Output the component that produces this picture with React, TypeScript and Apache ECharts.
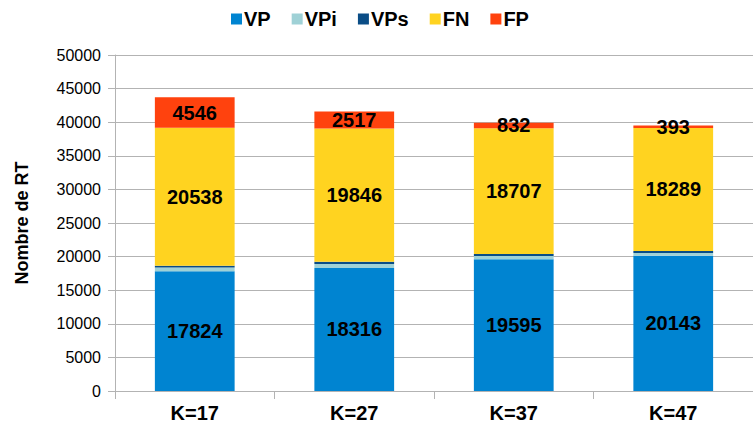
import React, { useEffect, useRef } from "react";
import * as echarts from "echarts";

const categories = ["K=17", "K=27", "K=37", "K=47"];
const vp = [17824, 18316, 19595, 20143];
const vpi = [550, 600, 500, 400];
const vps = [250, 300, 300, 300];
const fn = [20538, 19846, 18707, 18289];
const fp = [4546, 2517, 832, 393];
const yTicks = [0, 5000, 10000, 15000, 20000, 25000, 30000, 35000, 40000, 45000, 50000];

const FONT = "'Liberation Sans', Arial, sans-serif";

export default function App() {
  const ref = useRef<HTMLDivElement>(null);
  useEffect(() => {
    if (!ref.current) return;
    const chart = echarts.init(ref.current, undefined, { renderer: "svg" });
    const label = (show: boolean) => ({
      show,
      position: "inside",
      color: "#000",
      fontFamily: FONT,
      fontWeight: "bold",
      fontSize: 20,
    });
    const mk = (name: string, data: number[], color: string, showLabel: boolean) => ({
      name,
      type: "bar",
      stack: "all",
      data,
      barWidth: "50%",
      itemStyle: { color },
      label: label(showLabel),
    });
    chart.setOption({
      animation: false,
      textStyle: { fontFamily: FONT },
      legend: {
        top: 4,
        left: 226,
        itemWidth: 11,
        itemHeight: 11,
        itemGap: 21,
        icon: "rect",
        textStyle: { fontFamily: FONT, fontWeight: "bold", fontSize: 20, color: "#000", padding: [0, 0, 0, -3] },
        data: ["VP", "VPi", "VPs", "FN", "FP"],
      },
      grid: { left: 115, top: 55, width: 644, bottom: 41, containLabel: false },
      xAxis: {
        type: "category",
        data: categories,
        axisLine: { lineStyle: { color: "#b3b3b3" } },
        axisTick: { show: true, length: 8, lineStyle: { color: "#b3b3b3" } },
        axisLabel: { color: "#000", fontFamily: FONT, fontWeight: "bold", fontSize: 20, margin: 12 },
      },
      yAxis: {
        type: "value",
        min: 0,
        max: yTicks[yTicks.length - 1],
        interval: yTicks[1] - yTicks[0],
        name: "Nombre de RT",
        nameLocation: "middle",
        nameGap: 84,
        nameTextStyle: { color: "#000", fontFamily: FONT, fontWeight: "bold", fontSize: 18 },
        axisLine: { show: true, lineStyle: { color: "#b3b3b3" } },
        axisTick: { show: true, length: 7, lineStyle: { color: "#b3b3b3" } },
        axisLabel: {
          color: "#000",
          fontFamily: FONT,
          fontSize: 16,
          margin: 14,
          formatter: (v: number) => String(v),
        },
        splitLine: { lineStyle: { color: "#b3b3b3" } },
      },
      series: [
        mk("VP", vp, "#0084d1", true),
        mk("VPi", vpi, "#9fd1d6", false),
        mk("VPs", vps, "#0a4d86", false),
        mk("FN", fn, "#ffd320", true),
        mk("FP", fp, "#ff420e", true),
      ],
    });
    return () => chart.dispose();
  }, []);
  return <div ref={ref} style={{ width: 753, height: 432, position: "absolute", left: 0, top: 0 }} />;
}
